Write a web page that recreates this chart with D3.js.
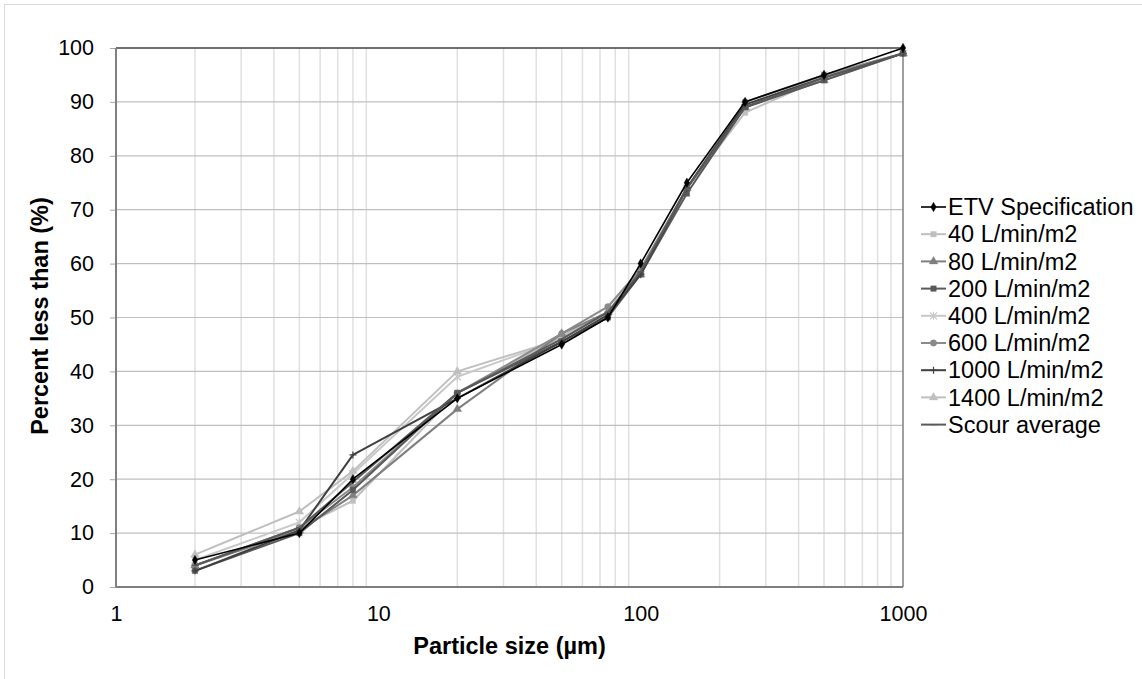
<!DOCTYPE html>
<html>
<head>
<meta charset="utf-8">
<script src="https://d3js.org/d3.v7.min.js"></script>
<style>
body { margin: 0; background: #fff; }
text { font-family: "Liberation Sans", Arial, sans-serif; fill: #000; }
</style>
</head>
<body>
<script>
// particle sizes (µm)
const sizes = [2, 5, 8, 20, 50, 75, 100, 150, 250, 500, 1000];

const etvSpec   = [5, 10, 20, 35, 45, 50, 60, 75, 90, 95, 100];
const flow40    = [4, 11, 16, 36, 46.5, 51, 59, 74, 88, 94.5, 99];
const flow80    = [4, 10.5, 17, 33, 47, 51, 58, 74, 89, 94, 99];
const flow200   = [3, 10, 18, 36, 45.5, 50, 58, 73, 89, 94, 99];
const flow400   = [5, 12, 21, 39, 46, 51, 58, 74, 89, 95, 99];
const flow600   = [4, 11, 18.5, 36, 47, 52, 59, 74, 90, 95, 99];
const flow1000  = [3, 10.5, 24.5, 35, 45.5, 50.5, 58, 74, 89.5, 94.5, 99];
const flow1400  = [6, 14, 21.5, 40, 46, 51, 58.5, 74, 89, 95, 99];
const scourAvg  = [4, 11, 19.5, 36, 46, 51, 58.5, 74, 89, 94.5, 99];

const seriesNames = ["ETV Specification", "40 L/min/m2", "80 L/min/m2", "200 L/min/m2",
  "400 L/min/m2", "600 L/min/m2", "1000 L/min/m2", "1400 L/min/m2", "Scour average"];
const seriesValues = [etvSpec, flow40, flow80, flow200, flow400, flow600, flow1000, flow1400, scourAvg];

const xTicks = [1, 10, 100, 1000];
const yTicks = [0, 10, 20, 30, 40, 50, 60, 70, 80, 90, 100];

// styling per series
const colors  = ["#000000", "#bfbfbf", "#7f7f7f", "#595959", "#c8c8c8", "#8a8a8a", "#404040", "#bfbfbf", "#595959"];
const markers = ["diamond", "square", "triangle", "square", "star", "circle", "plus", "triangle", "dash"];

const W = 1142, H = 679;
const m = {left: 116, top: 48, right: 903, bottom: 587};

const svg = d3.select("body").append("svg").attr("width", W).attr("height", H);

svg.append("rect")
  .attr("x", 4.5).attr("y", 4.5).attr("width", W).attr("height", H + 10)
  .attr("fill", "none").attr("stroke", "#d9d9d9").attr("stroke-width", 1);

const x = d3.scaleLog().domain([1, 1000]).range([m.left, m.right]);
const y = d3.scaleLinear().domain([0, 100]).range([m.bottom, m.top]);

// minor vertical grid
let minor = [];
for (let dec = 1; dec < 1000; dec *= 10) {
  for (let k = 2; k <= 9; k++) minor.push(dec * k);
}
minor = minor.filter(v => v < 1000);
svg.append("g").selectAll("line")
  .data(minor).enter().append("line")
  .attr("x1", d => x(d)).attr("x2", d => x(d))
  .attr("y1", m.top).attr("y2", m.bottom)
  .attr("stroke", d => (d === 10 || d === 100) ? "#d0d0d0" : "#e0e0e0")
  .attr("stroke-width", 1.5);

// horizontal grid
svg.append("g").selectAll("line")
  .data(yTicks.filter(d => d > 0 && d < 100)).enter().append("line")
  .attr("x1", m.left).attr("x2", m.right)
  .attr("y1", d => y(d)).attr("y2", d => y(d))
  .attr("stroke", "#bfbfbf").attr("stroke-width", 1.2);

// y axis
const yAxis = svg.append("g")
  .attr("transform", `translate(${m.left},0)`)
  .call(d3.axisLeft(y).tickValues(yTicks).tickSize(6).tickPadding(16));
yAxis.select(".domain").remove();
yAxis.selectAll(".tick line").attr("stroke", "#a6a6a6");
yAxis.selectAll(".tick text").attr("font-size", 21.5).attr("font-family", "Liberation Sans, Arial, sans-serif");

// x axis labels
const xAxis = svg.append("g")
  .attr("transform", `translate(0,${m.bottom})`)
  .call(d3.axisBottom(x).tickValues(xTicks).tickFormat(d3.format("d")).tickSize(0).tickPadding(19));
xAxis.select(".domain").remove();
xAxis.selectAll(".tick text").attr("font-size", 21.5).attr("font-family", "Liberation Sans, Arial, sans-serif");

// plot frame
svg.append("line").attr("x1", m.left).attr("x2", m.right).attr("y1", m.top).attr("y2", m.top)
  .attr("stroke", "#404040").attr("stroke-width", 1.5);
svg.append("line").attr("x1", m.right).attr("x2", m.right).attr("y1", m.top).attr("y2", m.bottom)
  .attr("stroke", "#7f7f7f").attr("stroke-width", 1.5);
svg.append("line").attr("x1", m.left).attr("x2", m.right).attr("y1", m.bottom).attr("y2", m.bottom)
  .attr("stroke", "#7f7f7f").attr("stroke-width", 2);
svg.append("line").attr("x1", m.left).attr("x2", m.left).attr("y1", m.top).attr("y2", m.bottom)
  .attr("stroke", "#7f7f7f").attr("stroke-width", 2);

// marker paths
function markerPath(kind) {
  switch (kind) {
    case "diamond": return d3.symbol(d3.symbolDiamond, 26)();
    case "square": return d3.symbol(d3.symbolSquare, 30)();
    case "triangle": return d3.symbol(d3.symbolTriangle, 32)();
    case "circle": return d3.symbol(d3.symbolCircle, 32)();
    case "star": return "M-3.5,-3.5L3.5,3.5M-3.5,3.5L3.5,-3.5M0,-4L0,4";
    case "plus": return "M-3.5,0L3.5,0M0,-3.5L0,3.5";
    case "dash": return "M-3.5,0L3.5,0";
  }
}
function markerStyle(sel, i) {
  const k = markers[i];
  const open = (k === "star" || k === "plus" || k === "dash");
  sel.attr("d", markerPath(k))
    .attr("fill", open ? "none" : colors[i])
    .attr("stroke", colors[i])
    .attr("stroke-width", open ? 1.2 : 0.4);
}

const line = d3.line().x(d => x(d[0])).y(d => y(d[1]));

// draw series back-to-front so ETV stays on top
const order = [1, 4, 7, 2, 5, 3, 6, 8, 0];
const plot = svg.append("g");
order.forEach(i => {
  const pts = sizes.map((s, j) => [s, seriesValues[i][j]]);
  const g = plot.append("g");
  g.append("path").datum(pts)
    .attr("d", line).attr("fill", "none")
    .attr("stroke", colors[i]).attr("stroke-width", i === 0 ? 1.6 : 2)
    .attr("stroke-linejoin", "round");
  g.selectAll("path.mk").data(pts).enter().append("path")
    .attr("class", "mk")
    .attr("transform", d => `translate(${x(d[0])},${y(d[1])})`)
    .call(markerStyle, i);
});

// legend
const lg = svg.append("g").attr("transform", "translate(921,207)");
seriesNames.forEach((name, i) => {
  const row = lg.append("g").attr("transform", `translate(0,${i * 27.2})`);
  row.append("line").attr("x1", 0).attr("x2", 25).attr("y1", 0).attr("y2", 0)
    .attr("stroke", colors[i]).attr("stroke-width", i === 0 ? 1.6 : 2);
  row.append("path").attr("transform", "translate(12.5,0)").call(markerStyle, i);
  row.append("text").attr("x", 27).attr("y", 0).attr("dy", "0.35em")
    .attr("font-size", 23.5).text(name);
});

// axis titles
svg.append("text")
  .attr("x", (m.left + m.right) / 2).attr("y", 654)
  .attr("text-anchor", "middle").attr("font-size", 23.5).attr("font-weight", "bold")
  .text("Particle size (µm)");
svg.append("text")
  .attr("transform", "translate(48,316) rotate(-90)")
  .attr("text-anchor", "middle").attr("font-size", 23.5).attr("font-weight", "bold")
  .text("Percent less than (%)");
</script>
</body>
</html>
